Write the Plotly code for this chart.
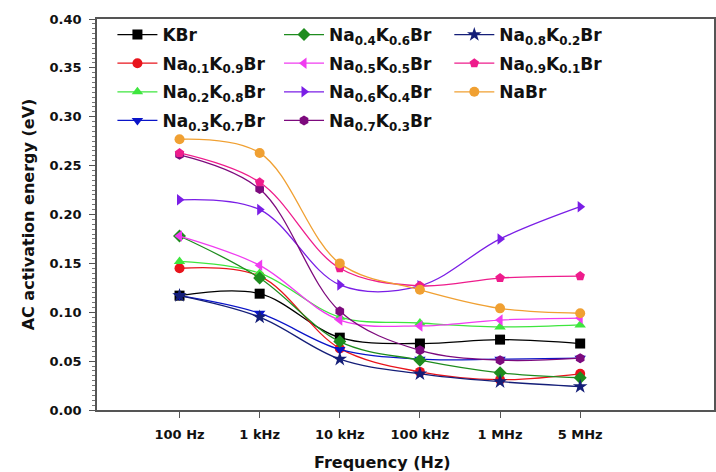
import plotly.graph_objects as go

freqs = ["100 Hz", "1 kHz", "10 kHz", "100 kHz", "1 MHz", "5 MHz"]

names = [
    "KBr",
    "Na<sub>0.1</sub>K<sub>0.9</sub>Br",
    "Na<sub>0.2</sub>K<sub>0.8</sub>Br",
    "Na<sub>0.3</sub>K<sub>0.7</sub>Br",
    "Na<sub>0.4</sub>K<sub>0.6</sub>Br",
    "Na<sub>0.5</sub>K<sub>0.5</sub>Br",
    "Na<sub>0.6</sub>K<sub>0.4</sub>Br",
    "Na<sub>0.7</sub>K<sub>0.3</sub>Br",
    "Na<sub>0.8</sub>K<sub>0.2</sub>Br",
    "Na<sub>0.9</sub>K<sub>0.1</sub>Br",
    "NaBr",
]

kbr = [0.117, 0.119, 0.074, 0.068, 0.072, 0.068]
na01 = [0.145, 0.137, 0.063, 0.039, 0.031, 0.037]
na02 = [0.152, 0.140, 0.095, 0.089, 0.085, 0.087]
na03 = [0.117, 0.099, 0.062, 0.052, 0.052, 0.053]
na04 = [0.178, 0.135, 0.070, 0.051, 0.038, 0.033]
na05 = [0.178, 0.148, 0.092, 0.086, 0.092, 0.094]
na06 = [0.215, 0.205, 0.128, 0.127, 0.175, 0.208]
na07 = [0.261, 0.226, 0.101, 0.061, 0.051, 0.053]
na08 = [0.117, 0.095, 0.052, 0.037, 0.029, 0.024]
na09 = [0.263, 0.233, 0.145, 0.127, 0.135, 0.137]
nabr = [0.277, 0.263, 0.150, 0.123, 0.104, 0.099]

series = [kbr, na01, na02, na03, na04, na05, na06, na07, na08, na09, nabr]
colors = ["#000000", "#e8141c", "#3ee63e", "#0a14c8", "#1e8c1e", "#f03cf0",
          "#7a1ee6", "#7d0a7d", "#141e78", "#ee1c8c", "#f0a032"]
symbols = ["square", "circle", "triangle-up", "triangle-down", "diamond",
           "triangle-left", "triangle-right", "hexagon", "star", "pentagon", "circle"]
legends = ["legend"] * 4 + ["legend2"] * 4 + ["legend3"] * 3

fig = go.Figure()
for i, (nm, ys, c, s, lg) in enumerate(zip(names, series, colors, symbols, legends)):
    fig.add_trace(go.Scatter(
        x=freqs, y=ys, name=nm, mode="lines+markers",
        line=dict(color=c, width=1.3, shape="spline", smoothing=1.0),
        marker=dict(color=c, symbol=s, size=10 if s != "star" else 11),
        legend=lg, legendgroup=f"g{i}",
    ))

FONT = "DejaVu Sans"
legfont = dict(family=FONT, size=17, color="#111", weight="bold")
legbase = dict(font=legfont, bgcolor="rgba(0,0,0,0)", yanchor="top",
               tracegroupgap=3.5, itemwidth=40)

fig.update_layout(
    width=716, height=472,
    margin=dict(l=97, r=0, t=19, b=62),
    paper_bgcolor="white", plot_bgcolor="white",
    showlegend=True,
    legend=dict(x=0.025, y=1.005, **legbase),
    legend2=dict(x=0.295, y=1.005, **legbase),
    legend3=dict(x=0.571, y=1.005, **legbase),
    xaxis=dict(
        type="category", range=[-1.03, 6.67],
        showline=True, linecolor="#555", linewidth=1.5, mirror=True,
        ticks="outside", ticklen=6, tickcolor="#555", ticklabelstandoff=6,
        tickfont=dict(family=FONT, size=13, color="#111", weight="bold"),
        showgrid=False, zeroline=False,
    ),
    yaxis=dict(
        range=[0, 0.40], dtick=0.05, tickformat=".2f",
        showline=True, linecolor="#555", linewidth=1.5, mirror=True,
        ticks="outside", ticklen=6, tickcolor="#555", ticklabelstandoff=5,
        minor=dict(dtick=0.005, ticks="outside", ticklen=3, tickcolor="#777"),
        tickfont=dict(family=FONT, size=13, color="#111", weight="bold"),
        title=dict(text="<b>AC activation energy (eV)</b>",
                   font=dict(family=FONT, size=16, color="#111"), standoff=11),
        showgrid=False, zeroline=False,
    ),
    annotations=[dict(
        text="<b>Frequency (Hz)</b>", xref="x", yref="paper",
        x=2.53, y=0, yshift=-52, showarrow=False, yanchor="middle",
        font=dict(family=FONT, size=16, color="#111"),
    )],
)

fig.write_html("out.html")
